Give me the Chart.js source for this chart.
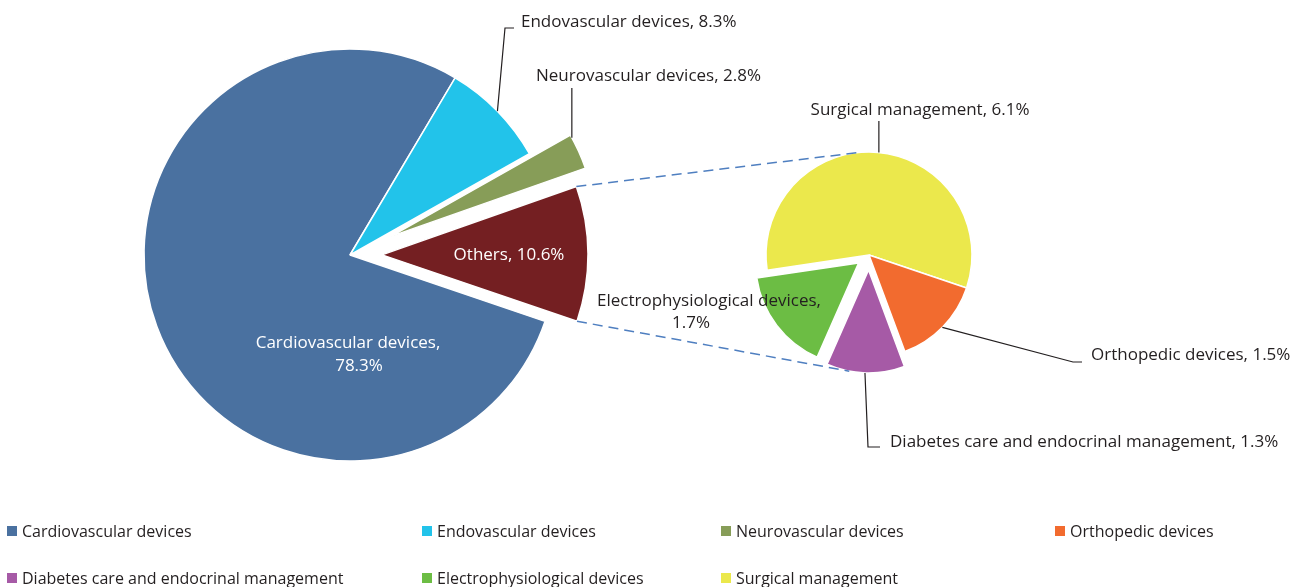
<!DOCTYPE html>
<html>
<head>
<meta charset="utf-8">
<script src="https://cdn.jsdelivr.net/npm/chart.js@4/dist/chart.umd.min.js"></script>
<style>
  body { margin: 0; background: #fff; }
  #wrap { position: relative; width: 1306px; height: 587px; overflow: hidden; font-family: "Open Sans", sans-serif; color: #231f20; }
  #wrap canvas { position: absolute; left: 0; top: 0; }
  .key { position: absolute; display: flex; align-items: center; height: 20px; font-size: 16px; white-space: nowrap; }
  .key i { display: block; width: 10px; height: 10px; margin-right: 5px; }
</style>
</head>
<body>
<div id="wrap">
  <canvas id="mainPie" width="1306" height="587" style="width:1306px;height:587px"></canvas>
  <canvas id="subPie" width="1306" height="587" style="width:1306px;height:587px"></canvas>
  <div id="legend"></div>
</div>
<script>
// Main pie
const mainLabels = ['Cardiovascular devices', 'Endovascular devices', 'Neurovascular devices', 'Others'];
const mainValues = [78.3, 8.3, 2.8, 10.6];
const mainColors = ['#4a71a0', '#22c3ea', '#879d58', '#741f22'];

// Breakdown of "Others"
const subLabels = ['Surgical management', 'Orthopedic devices', 'Diabetes care and endocrinal management', 'Electrophysiological devices'];
const subValues = [6.1, 1.5, 1.3, 1.7];
const subColors = ['#ebe84c', '#f26b2f', '#a65aa6', '#6cbd44'];

const legendOrder = ['Cardiovascular devices', 'Endovascular devices', 'Neurovascular devices', 'Orthopedic devices',
    'Diabetes care and endocrinal management', 'Electrophysiological devices', 'Surgical management'];

const INK = '#231f20';
const FONT = '17px "Open Sans", sans-serif';

// pulls slices out from the centre (pixels per slice)
const explodePlugin = {
    id: 'explode',
    beforeDatasetsDraw(chart, args, opts) {
        const a = chart.chartArea;
        const cx = (a.left + a.right) / 2;
        const cy = (a.top + a.bottom) / 2;
        const shift = opts.shift || [];
        chart.getDatasetMeta(0).data.forEach((arc, i) => {
            const d = shift[i] || 0;
            const mid = (arc.startAngle + arc.endAngle) / 2;
            arc.x = cx + Math.cos(mid) * d;
            arc.y = cy + Math.sin(mid) * d;
        });
    }
};

// point on an arc, angle in degrees clockwise from 12 o'clock
function pt(arc, deg, r) {
    const a = (deg - 90) * Math.PI / 180;
    const rr = r === undefined ? arc.outerRadius : r;
    return [arc.x + Math.cos(a) * rr, arc.y + Math.sin(a) * rr];
}

function line(ctx, pts) {
    ctx.beginPath();
    ctx.moveTo(pts[0][0], pts[0][1]);
    pts.slice(1).forEach(p => ctx.lineTo(p[0], p[1]));
    ctx.stroke();
}

function text(ctx, str, x, y, align, color) {
    ctx.fillStyle = color || INK;
    ctx.textAlign = align || 'left';
    ctx.fillText(str, x, y);
}

const mainChart = new Chart(document.getElementById('mainPie'), {
    type: 'pie',
    data: {
        labels: mainLabels,
        datasets: [{
            data: mainValues,
            backgroundColor: mainColors,
            borderColor: '#fff',
            borderWidth: 1.5
        }]
    },
    options: {
        responsive: false,
        animation: false,
        events: [],
        rotation: 108.8,
        radius: 206,
        layout: { padding: { left: 0, top: 0, right: 606, bottom: 77 } },
        plugins: {
            legend: { display: false },
            tooltip: { enabled: false },
            explode: { shift: [0, 0, 45, 32] }
        }
    },
    plugins: [explodePlugin]
});

// labels, leader lines and connectors for both pies
const labelPlugin = {
    id: 'labels',
    afterDraw(chart) {
        const ctx = chart.ctx;
        const m = mainChart.getDatasetMeta(0).data;
        const s = chart.getDatasetMeta(0).data;
        ctx.save();

        // dashed connectors from "Others" to the breakdown pie
        const others = m[3];
        const oTop = [others.x + Math.cos(others.startAngle) * others.outerRadius, others.y + Math.sin(others.startAngle) * others.outerRadius];
        const oBot = [others.x + Math.cos(others.endAngle) * others.outerRadius, others.y + Math.sin(others.endAngle) * others.outerRadius];
        ctx.strokeStyle = '#4f7fc0';
        ctx.lineWidth = 1.5;
        ctx.setLineDash([10, 6]);
        line(ctx, [oTop, pt(s[0], -6.6)]);
        line(ctx, [oBot, pt(s[2], 190.8)]);
        ctx.setLineDash([]);

        // leader lines
        ctx.strokeStyle = INK;
        ctx.lineWidth = 1.2;
        const e0 = pt(m[1], 45.7);
        line(ctx, [e0, [505, 28], [514, 28]]);
        const n0 = pt(m[2], 61.4);
        line(ctx, [n0, [n0[0], 88]]);
        const s0 = pt(s[0], 5.5);
        line(ctx, [s0, [s0[0], 121]]);
        const o0 = pt(s[1], 134.6);
        line(ctx, [o0, [1073, 362], [1082, 362]]);
        const d0 = pt(s[2], 182);
        line(ctx, [d0, [868, 447], [880, 447]]);

        ctx.font = FONT;
        ctx.textBaseline = 'middle';
        text(ctx, mainLabels[1] + ', ' + mainValues[1] + '%', 521, 22);
        text(ctx, mainLabels[2] + ', ' + mainValues[2] + '%', 536, 76);
        text(ctx, subLabels[0] + ', ' + subValues[0] + '%', 920, 110, 'center');
        text(ctx, subLabels[1] + ', ' + subValues[1] + '%', 1091, 355);
        text(ctx, subLabels[2] + ', ' + subValues[2] + '%', 890, 442);
        text(ctx, subLabels[3] + ',', 709, 301, 'center');
        text(ctx, subValues[3] + '%', 691, 323, 'center');
        text(ctx, mainLabels[0] + ',', 348, 343, 'center', '#fff');
        text(ctx, mainValues[0] + '%', 359, 366, 'center', '#fff');
        text(ctx, mainLabels[3] + ', ' + mainValues[3] + '%', 509, 255, 'center', '#fff');
        ctx.restore();
    }
};

const subChart = new Chart(document.getElementById('subPie'), {
    type: 'pie',
    data: {
        labels: subLabels,
        datasets: [{
            data: subValues,
            backgroundColor: subColors,
            borderColor: '#fff',
            borderWidth: 1.5
        }]
    },
    options: {
        responsive: false,
        animation: false,
        events: [],
        rotation: 261.5,
        radius: 103,
        layout: { padding: { left: 432, top: 0, right: 0, bottom: 77 } },
        plugins: {
            legend: { display: false },
            tooltip: { enabled: false },
            explode: { shift: [0, 0, 15, 13] }
        }
    },
    plugins: [explodePlugin, labelPlugin]
});

// Legend (4 columns, 2 rows)
const allLabels = mainLabels.concat(subLabels);
const allColors = mainColors.concat(subColors);
const legendCols = [7, 422, 721, 1055];
const legendRows = [531, 578];
const legendBox = document.getElementById('legend');
legendOrder.forEach((name, i) => {
    const item = document.createElement('div');
    item.className = 'key';
    item.style.left = legendCols[i % 4] + 'px';
    item.style.top = (legendRows[Math.floor(i / 4)] - 10) + 'px';
    const sw = document.createElement('i');
    sw.style.background = allColors[allLabels.indexOf(name)];
    item.appendChild(sw);
    item.appendChild(document.createTextNode(name));
    legendBox.appendChild(item);
});
</script>
</body>
</html>
